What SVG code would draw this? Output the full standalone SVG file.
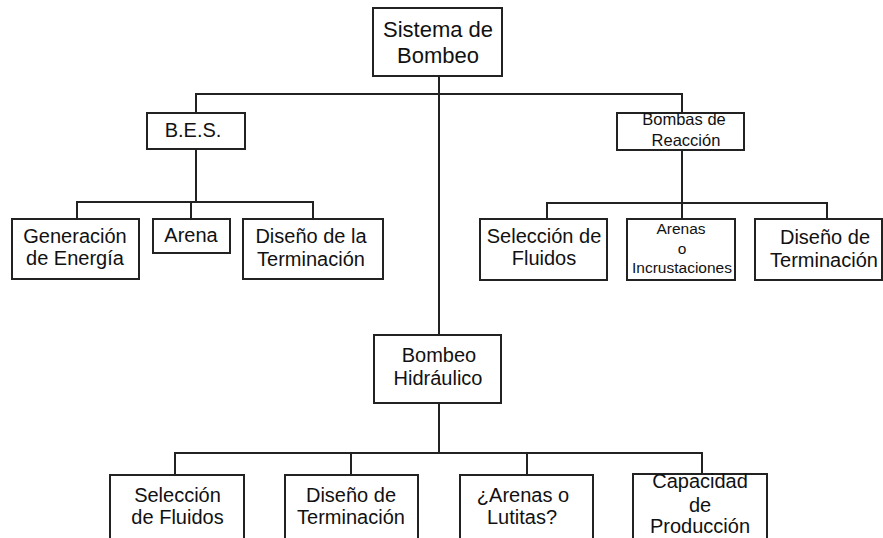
<svg xmlns="http://www.w3.org/2000/svg" width="883" height="538" viewBox="0 0 883 538">
<style>
.box{fill:#fff;stroke:#222;stroke-width:2}
.ln{fill:none;stroke:#222;stroke-width:2}
text{font-family:"Liberation Sans",Arial,sans-serif;fill:#111;text-anchor:middle;font-size:20px}
.big{font-size:22px}
.md{font-size:16.5px}
.sm{font-size:15.5px}
</style>
<rect width="883" height="538" fill="#fff"/>
<g id="connectors">
<path class="ln" d="M439 76V335"/>
<path class="ln" d="M196 113V94H682V113"/>
<path class="ln" d="M196 149V202M77 219V202H313V219M191 202V219"/>
<path class="ln" d="M682 150V203M547 219V203H827V219M682 203V219"/>
<path class="ln" d="M439 403V453M175 475V453H702V474M351 453V475M527 453V475"/>
</g>
<g id="n-sistema"><rect class="box" x="373" y="8" width="129" height="68"/><text class="big" x="438" y="37">Sistema de</text><text class="big" x="438" y="63">Bombeo</text></g>
<g id="n-bes"><rect class="box" x="147" y="113" width="98" height="36"/><text x="193" y="137">B.E.S.</text></g>
<g id="n-generacion"><rect class="box" x="12" y="219" width="127" height="60"/><text x="75" y="243">Generación</text><text x="75" y="265">de Energía</text></g>
<g id="n-arena"><rect class="box" x="153" y="219" width="77" height="34"/><text x="191" y="242">Arena</text></g>
<g id="n-disenola"><rect class="box" x="243" y="219" width="140" height="60"/><text x="311" y="243">Diseño de la</text><text x="311" y="266">Terminación</text></g>
<g id="n-bombas"><rect class="box" x="617" y="113" width="127" height="37"/><text class="md" x="684" y="125">Bombas de</text><text class="md" x="686" y="146">Reacción</text></g>
<g id="n-seleccion1"><rect class="box" x="480" y="219" width="127" height="61"/><text x="544" y="243">Selección de</text><text x="544" y="265">Fluidos</text></g>
<g id="n-arenas"><rect class="box" x="627" y="219" width="108" height="61"/><text class="sm" x="681" y="234">Arenas</text><text class="sm" x="682" y="254">o</text><text class="sm" x="682" y="273">Incrustaciones</text></g>
<g id="n-diseno1"><rect class="box" x="755" y="219" width="127" height="61"/><text x="825" y="244">Diseño de</text><text x="824" y="267">Terminación</text></g>
<g id="n-hidraulico"><rect class="box" x="374" y="335" width="127" height="68"/><text x="439" y="362">Bombeo</text><text x="438" y="385">Hidráulico</text></g>
<g id="n-seleccion2"><rect class="box" x="110" y="475" width="134" height="75"/><text x="177.5" y="502">Selección</text><text x="177.5" y="524">de Fluidos</text></g>
<g id="n-diseno2"><rect class="box" x="285" y="475" width="133" height="75"/><text x="351" y="502">Diseño de</text><text x="351" y="524">Terminación</text></g>
<g id="n-lutitas"><rect class="box" x="460" y="475" width="133" height="75"/><text x="523" y="502">¿Arenas o</text><text x="522" y="524">Lutitas?</text></g>
<g id="n-capacidad"><rect class="box" x="633" y="474" width="134" height="76"/><text x="700" y="488">Capacidad</text><text x="700" y="512">de</text><text x="700" y="533">Producción</text></g>
</svg>
